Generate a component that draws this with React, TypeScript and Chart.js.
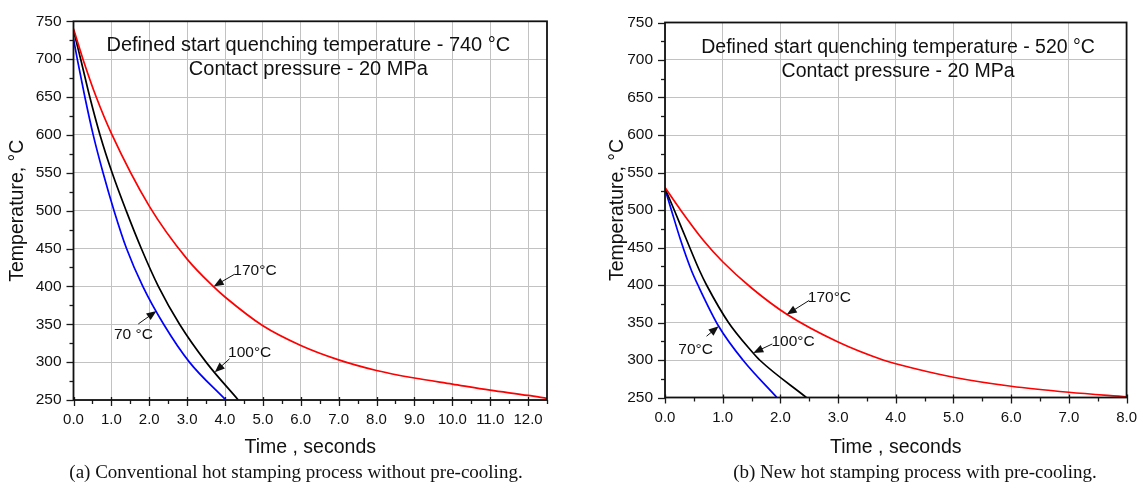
import React, { useEffect, useRef } from "react";
import { Chart, registerables } from "chart.js";

Chart.register(...registerables);

const SANS = "'Liberation Sans', Arial, Helvetica, sans-serif";
const SERIF = "'Liberation Serif', 'Times New Roman', Times, serif";

// ---------- (a) Conventional hot stamping, start 740 °C ----------
const aTime170 = [0, 0.25, 0.6, 1, 2, 3, 3.69, 4, 5, 6, 7, 8, 9, 10, 11, 12, 12.5];
const aTemp170 = [740, 700, 650, 602, 506, 436, 400, 386, 348, 322, 303, 289, 279, 271, 263, 256, 252];
const aTime100 = [0, 0.19, 0.43, 0.7, 1.02, 1.39, 1.79, 2.24, 2.8, 3.5, 4.35];
const aTemp100 = [738, 700, 650, 600, 550, 500, 450, 400, 350, 300, 250];
const aTime70 = [0, 0.1, 0.3, 0.52, 0.78, 1.07, 1.4, 1.83, 2.38, 3.06, 4.02];
const aTemp70 = [727, 700, 650, 600, 550, 500, 450, 400, 350, 300, 250];

const aTitleLines = ["Defined start quenching temperature - 740 °C", "Contact pressure - 20 MPa"];
const aTitleTime = 6.2;
const aTitleTemps = [718, 687];

const aNoteText = ["170°C", "70 °C", "100°C"];
const aNoteTime = [4.79, 1.58, 4.65];
const aNoteTemp = [420.6, 336.4, 313];
const aArrowFromTime = [4.25, 1.71, 4.12];
const aArrowFromTemp = [416, 350.4, 304.4];
const aArrowToTime = [3.7, 2.19, 3.73];
const aArrowToTemp = [400, 367.5, 286.8];

// ---------- (b) New hot stamping with pre-cooling, start 520 °C ----------
const bTime170 = [0, 0.27, 0.66, 1.0, 1.5, 2.11, 3, 3.78, 4, 5, 6, 7, 8];
const bTemp170 = [530, 500, 460, 431, 396, 361, 324, 300, 295, 277, 265, 257, 251];
const bTime100 = [0, 0.16, 0.375, 0.6, 0.72, 1.1, 1.52, 1.64, 2.45];
const bTemp100 = [529, 500, 460, 419, 400, 350, 310, 300, 250];
const bTime70 = [0, 0.11, 0.27, 0.46, 0.57, 0.93, 1.35, 1.94];
const bTemp70 = [528, 500, 460, 419, 400, 345, 300, 250];

const bTitleLines = ["Defined start quenching temperature - 520 °C", "Contact pressure - 20 MPa"];
const bTitleTime = 4.04;
const bTitleTemps = [716.5, 685];

const bNoteText = ["170°C", "100°C", "70°C"];
const bNoteTime = [2.85, 2.22, 0.53];
const bNoteTemp = [383, 325, 313.8];
const bArrowFromTime = [2.5, 1.86, 0.72];
const bArrowFromTemp = [379.5, 321.4, 331.7];
const bArrowToTime = [2.11, 1.53, 0.93];
const bArrowToTemp = [360.7, 309.4, 345];

// ---------- axes ----------
const yMin = 250;
const yMax = 750;
const yStep = 50;
const yMinorStep = 25;
const xStep = 1;
const xMinorStep = 0.5;
const aXMax = 12.5;
const bXMax = 8;
const xAxisTitle = "Time , seconds";
const yAxisTitle = "Temperature, °C";
const captionA = "(a) Conventional hot stamping process without pre-cooling.";
const captionB = "(b) New hot stamping process with pre-cooling.";

const pts = (xs: number[], ys: number[]) => xs.map((x, i) => ({ x, y: ys[i] }));

const decorPlugin = {
  id: "decor",
  afterDatasetsDraw(chart: any, _args: any, opts: any) {
    const { ctx, chartArea: a, scales } = chart;
    const x = scales.x;
    const y = scales.y;
    ctx.save();
    // ticks
    ctx.strokeStyle = "#1a1a1a";
    ctx.lineWidth = 1.3;
    const nx = Math.round((x.max - x.min) / xMinorStep);
    for (let i = 0; i <= nx; i++) {
      const v = x.min + i * xMinorStep;
      const major = Math.abs(v / xStep - Math.round(v / xStep)) < 1e-6;
      const px = Math.round(x.getPixelForValue(v)) + 0.5;
      ctx.beginPath();
      ctx.moveTo(px, a.bottom + (major ? -3 : 0));
      ctx.lineTo(px, a.bottom + (major ? 6 : 4));
      ctx.stroke();
    }
    const ny = Math.round((y.max - y.min) / yMinorStep);
    for (let i = 0; i <= ny; i++) {
      const v = y.min + i * yMinorStep;
      const major = Math.abs(v / yStep - Math.round(v / yStep)) < 1e-6;
      const py = Math.round(y.getPixelForValue(v)) + 0.5;
      ctx.beginPath();
      ctx.moveTo(a.left - (major ? 7 : 4), py);
      ctx.lineTo(a.left, py);
      ctx.stroke();
    }
    // frame
    ctx.strokeStyle = "#111";
    ctx.lineWidth = 1.8;
    ctx.strokeRect(a.left, a.top, a.right - a.left, a.bottom - a.top);

    // titles inside
    ctx.fillStyle = "#111";
    ctx.textAlign = "center";
    ctx.textBaseline = "middle";
    ctx.font = `${opts.titleSize}px ${SANS}`;
    opts.titleLines.forEach((t: string, i: number) => {
      ctx.fillText(t, x.getPixelForValue(opts.titleTime), y.getPixelForValue(opts.titleTemps[i]));
    });

    // notes + arrows
    ctx.font = `15.5px ${SANS}`;
    opts.noteText.forEach((t: string, i: number) => {
      ctx.fillStyle = "#111";
      ctx.fillText(t, x.getPixelForValue(opts.noteTime[i]), y.getPixelForValue(opts.noteTemp[i]));
      const x0 = x.getPixelForValue(opts.fromTime[i]);
      const y0 = y.getPixelForValue(opts.fromTemp[i]);
      const x1 = x.getPixelForValue(opts.toTime[i]);
      const y1 = y.getPixelForValue(opts.toTemp[i]);
      const ang = Math.atan2(y1 - y0, x1 - x0);
      const L = 10;
      const W = 4;
      ctx.strokeStyle = "#111";
      ctx.lineWidth = 1;
      ctx.beginPath();
      ctx.moveTo(x0, y0);
      ctx.lineTo(x1 - Math.cos(ang) * L * 0.8, y1 - Math.sin(ang) * L * 0.8);
      ctx.stroke();
      ctx.beginPath();
      ctx.moveTo(x1, y1);
      ctx.lineTo(x1 - Math.cos(ang) * L - Math.sin(ang) * W, y1 - Math.sin(ang) * L + Math.cos(ang) * W);
      ctx.lineTo(x1 - Math.cos(ang) * L + Math.sin(ang) * W, y1 - Math.sin(ang) * L - Math.cos(ang) * W);
      ctx.closePath();
      ctx.fill();
    });
    ctx.restore();
  },
};

type PanelProps = {
  left: number;
  width: number;
  height: number;
  padLeft: number;
  padTop: number;
  padRight: number;
  xHeight: number;
  yTitlePad: number;
  xMax: number;
  series: { label: string; color: string; xs: number[]; ys: number[] }[];
  decor: any;
};

function Panel(p: PanelProps) {
  const ref = useRef<HTMLCanvasElement | null>(null);
  useEffect(() => {
    if (!ref.current) return;
    const chart = new Chart(ref.current, {
      type: "line",
      data: {
        datasets: p.series.map((s) => ({
          label: s.label,
          data: pts(s.xs, s.ys),
          borderColor: s.color,
          backgroundColor: s.color,
          borderWidth: 1.7,
          pointRadius: 0,
          cubicInterpolationMode: "monotone",
          fill: false,
        })),
      },
      options: {
        responsive: false,
        animation: false,
        events: [],
        layout: { padding: { left: 0, top: p.padTop, right: p.padRight, bottom: 0 } },
        plugins: {
          legend: { display: false },
          tooltip: { enabled: false },
          decor: p.decor,
        } as any,
        scales: {
          x: {
            type: "linear",
            min: 0,
            max: p.xMax,
            border: { display: false },
            grid: { color: "#c2c2c2", lineWidth: 1, drawTicks: false },
            ticks: {
              stepSize: xStep,
              includeBounds: false,
              padding: 11,
              color: "#111",
              font: { family: SANS, size: 15 },
              maxRotation: 0,
              autoSkip: false,
              callback: (v: any) => Number(v).toFixed(1),
            },
            title: {
              display: true,
              text: xAxisTitle,
              color: "#111",
              font: { family: SANS, size: 19.5 },
              padding: { top: 0, bottom: 3 },
            },
            afterFit: (s: any) => {
              s.height = p.xHeight;
            },
          },
          y: {
            type: "linear",
            min: yMin,
            max: yMax,
            border: { display: false },
            grid: { color: "#c2c2c2", lineWidth: 1, drawTicks: false },
            ticks: {
              stepSize: yStep,
              padding: 12,
              color: "#111",
              font: { family: SANS, size: 15.5 },
              callback: (v: any) => String(v),
            },
            title: {
              display: true,
              text: yAxisTitle,
              color: "#111",
              font: { family: SANS, size: 19.5 },
              padding: { top: p.yTitlePad, bottom: 0 },
            },
            afterFit: (s: any) => {
              s.width = p.padLeft;
            },
          },
        },
      } as any,
      plugins: [decorPlugin],
    });
    return () => chart.destroy();
  }, []);
  return (
    <canvas
      ref={ref}
      width={p.width}
      height={p.height}
      style={{ position: "absolute", left: p.left, top: 0, width: p.width, height: p.height }}
    />
  );
}

export default function App() {
  const H = 462;
  const captionStyle: any = {
    position: "absolute",
    width: 600,
    top: 461,
    textAlign: "center",
    fontFamily: SERIF,
    fontSize: 19,
    lineHeight: "22px",
    whiteSpace: "nowrap",
    color: "#111",
  };
  return (
    <div
      style={{
        position: "absolute",
        left: 0,
        top: 0,
        width: 1148,
        height: 488,
        background: "#fff",
        overflow: "hidden",
      }}
    >
      <Panel
        left={0}
        width={580}
        height={H}
        padLeft={73.5}
        padTop={19}
        padRight={33}
        xHeight={H - 400}
        yTitlePad={6}
        xMax={aXMax}
        series={[
          { label: "170°C", color: "#ff0000", xs: aTime170, ys: aTemp170 },
          { label: "100°C", color: "#000000", xs: aTime100, ys: aTemp100 },
          { label: "70 °C", color: "#0000ff", xs: aTime70, ys: aTemp70 },
        ]}
        decor={{
          titleSize: 20,
          titleLines: aTitleLines,
          titleTime: aTitleTime,
          titleTemps: aTitleTemps,
          noteText: aNoteText,
          noteTime: aNoteTime,
          noteTemp: aNoteTemp,
          fromTime: aArrowFromTime,
          fromTemp: aArrowFromTemp,
          toTime: aArrowToTime,
          toTemp: aArrowToTemp,
        }}
      />
      <Panel
        left={580}
        width={568}
        height={H}
        padLeft={85}
        padTop={22.5}
        padRight={13}
        xHeight={H - 397.5}
        yTitlePad={26}
        xMax={bXMax}
        series={[
          { label: "170°C", color: "#ff0000", xs: bTime170, ys: bTemp170 },
          { label: "100°C", color: "#000000", xs: bTime100, ys: bTemp100 },
          { label: "70°C", color: "#0000ff", xs: bTime70, ys: bTemp70 },
        ]}
        decor={{
          titleSize: 19.5,
          titleLines: bTitleLines,
          titleTime: bTitleTime,
          titleTemps: bTitleTemps,
          noteText: bNoteText,
          noteTime: bNoteTime,
          noteTemp: bNoteTemp,
          fromTime: bArrowFromTime,
          fromTemp: bArrowFromTemp,
          toTime: bArrowToTime,
          toTemp: bArrowToTemp,
        }}
      />
      <div style={{ ...captionStyle, left: 296 - 300 }}>{captionA}</div>
      <div style={{ ...captionStyle, left: 915 - 300 }}>{captionB}</div>
    </div>
  );
}
